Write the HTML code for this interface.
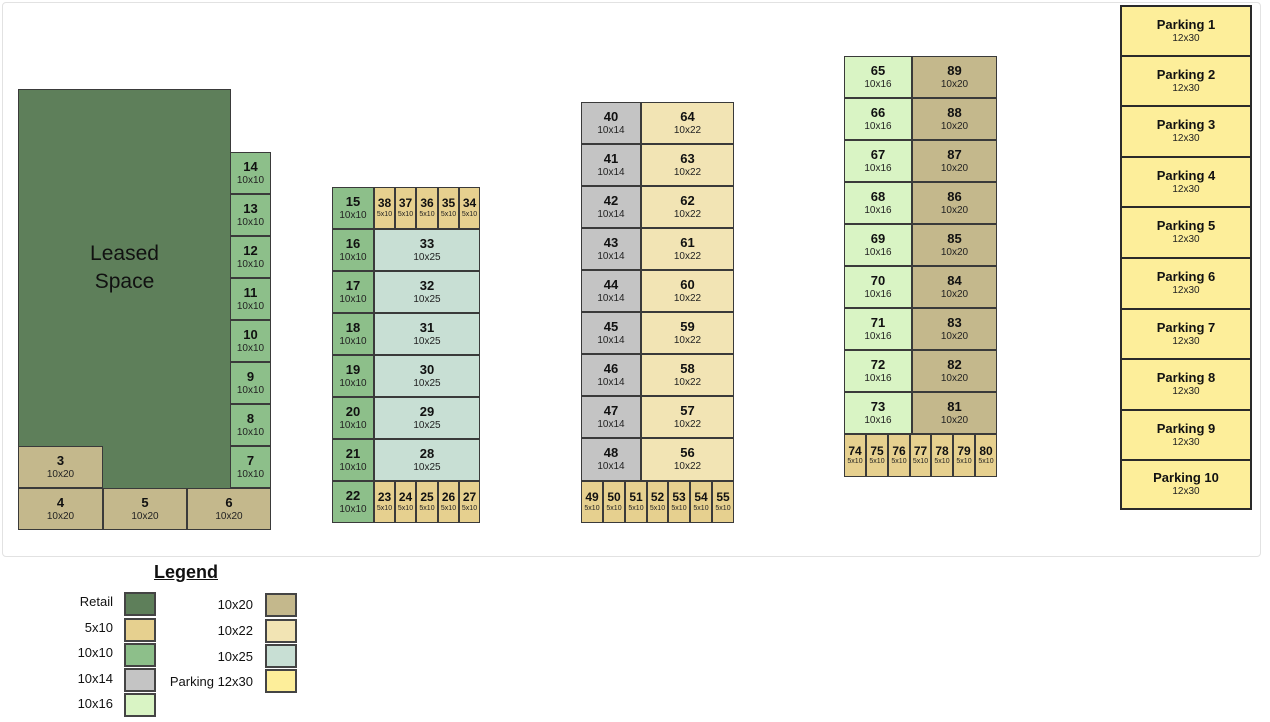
<!DOCTYPE html>
<html><head><meta charset="utf-8"><style>
body{margin:0;width:1270px;height:722px;background:#fff;position:relative;overflow:hidden;font-family:"Liberation Sans",sans-serif;color:#111}
.p{position:absolute;left:2px;top:2px;width:1257px;height:553px;border:1px solid #e2e2e2;border-radius:4px}
.c{position:absolute;box-sizing:border-box;border:1px solid #3a3a3a;display:flex;flex-direction:column;align-items:center;justify-content:center;line-height:1.15}
.c b{font-size:13px}.c i{font-style:normal;font-size:10px;color:#222}
.s b{font-size:12px}.s i{font-size:7px}
.r{background:#5e7f5a}.a{background:#e6d08f}.g{background:#8dbf8a}.y{background:#c4c4c4}.l{background:#d9f4c4}.t{background:#c4b88c}.w{background:#f2e4b4}.q{background:#c8dfd4}.k{background:#fdee9a;border:2px solid #2a2a2a}
.lg{position:absolute;font-size:13px;text-align:right}
.sw{position:absolute;width:32px;height:24px;box-sizing:border-box;border:2px solid #444}
</style></head><body>
<div class="p"></div>
<!-- block 1 -->
<div class="c r" style="left:18px;top:89px;width:213px;height:400px;justify-content:flex-start;padding-top:150px"><span style="font-size:21px;text-align:center;line-height:1.35">Leased<br>Space</span></div>
<div class="c g" style="left:230px;top:152px;width:41px;height:42px"><b>14</b><i>10x10</i></div>
<div class="c g" style="left:230px;top:194px;width:41px;height:42px"><b>13</b><i>10x10</i></div>
<div class="c g" style="left:230px;top:236px;width:41px;height:42px"><b>12</b><i>10x10</i></div>
<div class="c g" style="left:230px;top:278px;width:41px;height:42px"><b>11</b><i>10x10</i></div>
<div class="c g" style="left:230px;top:320px;width:41px;height:42px"><b>10</b><i>10x10</i></div>
<div class="c g" style="left:230px;top:362px;width:41px;height:42px"><b>9</b><i>10x10</i></div>
<div class="c g" style="left:230px;top:404px;width:41px;height:42px"><b>8</b><i>10x10</i></div>
<div class="c g" style="left:230px;top:446px;width:41px;height:42px"><b>7</b><i>10x10</i></div>
<div class="c t" style="left:18px;top:446px;width:85px;height:42px"><b>3</b><i>10x20</i></div>
<div class="c t" style="left:18px;top:488px;width:85px;height:42px"><b>4</b><i>10x20</i></div>
<div class="c t" style="left:103px;top:488px;width:84px;height:42px"><b>5</b><i>10x20</i></div>
<div class="c t" style="left:187px;top:488px;width:84px;height:42px"><b>6</b><i>10x20</i></div>
<!-- block 2 -->
<div class="c g" style="left:332px;top:187px;width:42px;height:42px"><b>15</b><i>10x10</i></div>
<div class="c a s" style="left:374px;top:187px;width:21px;height:42px"><b>38</b><i>5x10</i></div>
<div class="c a s" style="left:395px;top:187px;width:21px;height:42px"><b>37</b><i>5x10</i></div>
<div class="c a s" style="left:416px;top:187px;width:22px;height:42px"><b>36</b><i>5x10</i></div>
<div class="c a s" style="left:438px;top:187px;width:21px;height:42px"><b>35</b><i>5x10</i></div>
<div class="c a s" style="left:459px;top:187px;width:21px;height:42px"><b>34</b><i>5x10</i></div>
<div class="c g" style="left:332px;top:229px;width:42px;height:42px"><b>16</b><i>10x10</i></div>
<div class="c q" style="left:374px;top:229px;width:106px;height:42px"><b>33</b><i>10x25</i></div>
<div class="c g" style="left:332px;top:271px;width:42px;height:42px"><b>17</b><i>10x10</i></div>
<div class="c q" style="left:374px;top:271px;width:106px;height:42px"><b>32</b><i>10x25</i></div>
<div class="c g" style="left:332px;top:313px;width:42px;height:42px"><b>18</b><i>10x10</i></div>
<div class="c q" style="left:374px;top:313px;width:106px;height:42px"><b>31</b><i>10x25</i></div>
<div class="c g" style="left:332px;top:355px;width:42px;height:42px"><b>19</b><i>10x10</i></div>
<div class="c q" style="left:374px;top:355px;width:106px;height:42px"><b>30</b><i>10x25</i></div>
<div class="c g" style="left:332px;top:397px;width:42px;height:42px"><b>20</b><i>10x10</i></div>
<div class="c q" style="left:374px;top:397px;width:106px;height:42px"><b>29</b><i>10x25</i></div>
<div class="c g" style="left:332px;top:439px;width:42px;height:42px"><b>21</b><i>10x10</i></div>
<div class="c q" style="left:374px;top:439px;width:106px;height:42px"><b>28</b><i>10x25</i></div>
<div class="c g" style="left:332px;top:481px;width:42px;height:42px"><b>22</b><i>10x10</i></div>
<div class="c a s" style="left:374px;top:481px;width:21px;height:42px"><b>23</b><i>5x10</i></div>
<div class="c a s" style="left:395px;top:481px;width:21px;height:42px"><b>24</b><i>5x10</i></div>
<div class="c a s" style="left:416px;top:481px;width:22px;height:42px"><b>25</b><i>5x10</i></div>
<div class="c a s" style="left:438px;top:481px;width:21px;height:42px"><b>26</b><i>5x10</i></div>
<div class="c a s" style="left:459px;top:481px;width:21px;height:42px"><b>27</b><i>5x10</i></div>
<!-- block 3 -->
<div class="c y" style="left:581px;top:102px;width:60px;height:42px"><b>40</b><i>10x14</i></div>
<div class="c w" style="left:641px;top:102px;width:93px;height:42px"><b>64</b><i>10x22</i></div>
<div class="c y" style="left:581px;top:144px;width:60px;height:42px"><b>41</b><i>10x14</i></div>
<div class="c w" style="left:641px;top:144px;width:93px;height:42px"><b>63</b><i>10x22</i></div>
<div class="c y" style="left:581px;top:186px;width:60px;height:42px"><b>42</b><i>10x14</i></div>
<div class="c w" style="left:641px;top:186px;width:93px;height:42px"><b>62</b><i>10x22</i></div>
<div class="c y" style="left:581px;top:228px;width:60px;height:42px"><b>43</b><i>10x14</i></div>
<div class="c w" style="left:641px;top:228px;width:93px;height:42px"><b>61</b><i>10x22</i></div>
<div class="c y" style="left:581px;top:270px;width:60px;height:42px"><b>44</b><i>10x14</i></div>
<div class="c w" style="left:641px;top:270px;width:93px;height:42px"><b>60</b><i>10x22</i></div>
<div class="c y" style="left:581px;top:312px;width:60px;height:42px"><b>45</b><i>10x14</i></div>
<div class="c w" style="left:641px;top:312px;width:93px;height:42px"><b>59</b><i>10x22</i></div>
<div class="c y" style="left:581px;top:354px;width:60px;height:42px"><b>46</b><i>10x14</i></div>
<div class="c w" style="left:641px;top:354px;width:93px;height:42px"><b>58</b><i>10x22</i></div>
<div class="c y" style="left:581px;top:396px;width:60px;height:42px"><b>47</b><i>10x14</i></div>
<div class="c w" style="left:641px;top:396px;width:93px;height:42px"><b>57</b><i>10x22</i></div>
<div class="c y" style="left:581px;top:438px;width:60px;height:43px"><b>48</b><i>10x14</i></div>
<div class="c w" style="left:641px;top:438px;width:93px;height:43px"><b>56</b><i>10x22</i></div>
<div class="c a s" style="left:581px;top:481px;width:22px;height:42px"><b>49</b><i>5x10</i></div>
<div class="c a s" style="left:603px;top:481px;width:22px;height:42px"><b>50</b><i>5x10</i></div>
<div class="c a s" style="left:625px;top:481px;width:22px;height:42px"><b>51</b><i>5x10</i></div>
<div class="c a s" style="left:647px;top:481px;width:21px;height:42px"><b>52</b><i>5x10</i></div>
<div class="c a s" style="left:668px;top:481px;width:22px;height:42px"><b>53</b><i>5x10</i></div>
<div class="c a s" style="left:690px;top:481px;width:22px;height:42px"><b>54</b><i>5x10</i></div>
<div class="c a s" style="left:712px;top:481px;width:22px;height:42px"><b>55</b><i>5x10</i></div>
<!-- block 4 -->
<div class="c l" style="left:844px;top:56px;width:68px;height:42px"><b>65</b><i>10x16</i></div>
<div class="c t" style="left:912px;top:56px;width:85px;height:42px"><b>89</b><i>10x20</i></div>
<div class="c l" style="left:844px;top:98px;width:68px;height:42px"><b>66</b><i>10x16</i></div>
<div class="c t" style="left:912px;top:98px;width:85px;height:42px"><b>88</b><i>10x20</i></div>
<div class="c l" style="left:844px;top:140px;width:68px;height:42px"><b>67</b><i>10x16</i></div>
<div class="c t" style="left:912px;top:140px;width:85px;height:42px"><b>87</b><i>10x20</i></div>
<div class="c l" style="left:844px;top:182px;width:68px;height:42px"><b>68</b><i>10x16</i></div>
<div class="c t" style="left:912px;top:182px;width:85px;height:42px"><b>86</b><i>10x20</i></div>
<div class="c l" style="left:844px;top:224px;width:68px;height:42px"><b>69</b><i>10x16</i></div>
<div class="c t" style="left:912px;top:224px;width:85px;height:42px"><b>85</b><i>10x20</i></div>
<div class="c l" style="left:844px;top:266px;width:68px;height:42px"><b>70</b><i>10x16</i></div>
<div class="c t" style="left:912px;top:266px;width:85px;height:42px"><b>84</b><i>10x20</i></div>
<div class="c l" style="left:844px;top:308px;width:68px;height:42px"><b>71</b><i>10x16</i></div>
<div class="c t" style="left:912px;top:308px;width:85px;height:42px"><b>83</b><i>10x20</i></div>
<div class="c l" style="left:844px;top:350px;width:68px;height:42px"><b>72</b><i>10x16</i></div>
<div class="c t" style="left:912px;top:350px;width:85px;height:42px"><b>82</b><i>10x20</i></div>
<div class="c l" style="left:844px;top:392px;width:68px;height:42px"><b>73</b><i>10x16</i></div>
<div class="c t" style="left:912px;top:392px;width:85px;height:42px"><b>81</b><i>10x20</i></div>
<div class="c a s" style="left:844px;top:434px;width:22px;height:43px"><b>74</b><i>5x10</i></div>
<div class="c a s" style="left:866px;top:434px;width:22px;height:43px"><b>75</b><i>5x10</i></div>
<div class="c a s" style="left:888px;top:434px;width:22px;height:43px"><b>76</b><i>5x10</i></div>
<div class="c a s" style="left:910px;top:434px;width:21px;height:43px"><b>77</b><i>5x10</i></div>
<div class="c a s" style="left:931px;top:434px;width:22px;height:43px"><b>78</b><i>5x10</i></div>
<div class="c a s" style="left:953px;top:434px;width:22px;height:43px"><b>79</b><i>5x10</i></div>
<div class="c a s" style="left:975px;top:434px;width:22px;height:43px"><b>80</b><i>5x10</i></div>
<!-- parking -->
<div class="c k" style="left:1120px;top:5px;width:132px;height:52px"><b>Parking 1</b><i>12x30</i></div>
<div class="c k" style="left:1120px;top:55px;width:132px;height:52px"><b>Parking 2</b><i>12x30</i></div>
<div class="c k" style="left:1120px;top:105px;width:132px;height:53px"><b>Parking 3</b><i>12x30</i></div>
<div class="c k" style="left:1120px;top:156px;width:132px;height:52px"><b>Parking 4</b><i>12x30</i></div>
<div class="c k" style="left:1120px;top:206px;width:132px;height:53px"><b>Parking 5</b><i>12x30</i></div>
<div class="c k" style="left:1120px;top:257px;width:132px;height:53px"><b>Parking 6</b><i>12x30</i></div>
<div class="c k" style="left:1120px;top:308px;width:132px;height:52px"><b>Parking 7</b><i>12x30</i></div>
<div class="c k" style="left:1120px;top:358px;width:132px;height:53px"><b>Parking 8</b><i>12x30</i></div>
<div class="c k" style="left:1120px;top:409px;width:132px;height:52px"><b>Parking 9</b><i>12x30</i></div>
<div class="c k" style="left:1120px;top:459px;width:132px;height:51px"><b>Parking 10</b><i>12x30</i></div>
<!-- legend -->
<div style="position:absolute;left:126px;top:562px;width:120px;text-align:center;font-weight:bold;font-size:18px;text-decoration:underline">Legend</div>
<div class="lg" style="left:30px;top:594px;width:83px">Retail</div><div class="sw r" style="left:124px;top:592px"></div>
<div class="lg" style="left:30px;top:620px;width:83px">5x10</div><div class="sw a" style="left:124px;top:618px"></div>
<div class="lg" style="left:30px;top:645px;width:83px">10x10</div><div class="sw g" style="left:124px;top:643px"></div>
<div class="lg" style="left:30px;top:671px;width:83px">10x14</div><div class="sw y" style="left:124px;top:668px"></div>
<div class="lg" style="left:30px;top:696px;width:83px">10x16</div><div class="sw l" style="left:124px;top:693px"></div>
<div class="lg" style="left:150px;top:597px;width:103px">10x20</div><div class="sw t" style="left:265px;top:593px"></div>
<div class="lg" style="left:150px;top:623px;width:103px">10x22</div><div class="sw w" style="left:265px;top:619px"></div>
<div class="lg" style="left:150px;top:649px;width:103px">10x25</div><div class="sw q" style="left:265px;top:644px"></div>
<div class="lg" style="left:150px;top:674px;width:103px">Parking 12x30</div><div class="sw k" style="left:265px;top:669px"></div>
</body></html>
